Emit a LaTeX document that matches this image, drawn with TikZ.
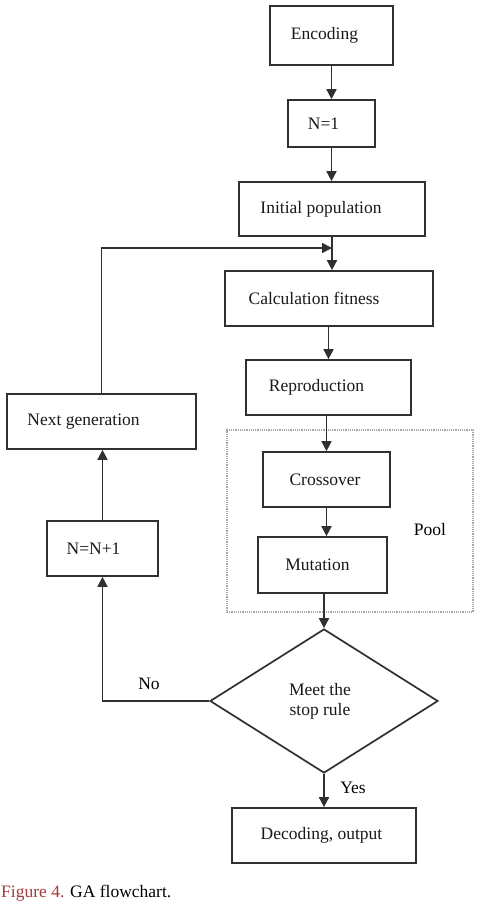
\documentclass[tikz,border=0pt]{standalone}
\usepackage{fontspec}
\setmainfont{Liberation Serif}
\usetikzlibrary{arrows.meta,shapes.geometric}
\definecolor{lc}{HTML}{303030}
\definecolor{capred}{HTML}{A33A3A}
\begin{document}
\begin{tikzpicture}[x=1pt,y=-1pt,
  font=\fontsize{17.5}{20}\selectfont,
  box/.style={draw=lc,line width=1.7pt,rectangle,inner sep=0pt,text=black!90},
  decision/.style={draw=lc,line width=1.7pt,diamond,inner sep=0pt,minimum width=228pt,minimum height=144pt,text=black!90},
  arr/.style={draw=lc,line width=1.7pt,-{Triangle[length=10pt,width=10pt]}},
  poolbox/.style={draw=gray!70,line width=1.2pt,densely dotted,rectangle,inner sep=0pt}
]
\useasboundingbox (0,0) rectangle (481,907);
\fill[white] (0,0) rectangle (481,907);

\node[box,minimum width=123pt,minimum height=59pt] (enc) at (331.5,35.5) {Encoding\kern14pt};
\node[box,minimum width=87pt,minimum height=47pt] (n1) at (331.5,123.5) {N=1\kern16pt};
\node[box,minimum width=186pt,minimum height=54pt] (init) at (332,209) {Initial population\kern22pt};
\node[box,minimum width=208pt,minimum height=55pt] (calc) at (329,298.5) {Calculation fitness\kern30pt};
\node[box,minimum width=165pt,minimum height=55pt] (rep) at (328.5,387.5) {Reproduction\kern24pt};
\node[poolbox,minimum width=246pt,minimum height=182pt] (pool) at (350,521) {};
\node[box,minimum width=127pt,minimum height=55pt] (cross) at (326.5,479.5) {Crossover\kern3pt};
\node[box,minimum width=129pt,minimum height=56pt] (mut) at (322.5,565) {Mutation\kern10pt};
\node (pooltxt) at (430,530) {Pool};
\node[decision] (dec) at (324,701) {\raisebox{-6pt}{\kern-8pt\begin{tabular}{@{}c@{}}Meet the\\stop rule\end{tabular}}};
\node[box,minimum width=184pt,minimum height=55pt] (dout) at (324,835.5) {Decoding, output\kern5pt};
\node[box,minimum width=189pt,minimum height=55pt] (next) at (101.5,421.5) {Next generation\kern36pt};
\node[box,minimum width=111pt,minimum height=55pt] (nn) at (102.5,548.5) {N=N+1\kern18pt};

\coordinate (join) at (332,248);

\draw[arr] (enc.south -| 331.5,0) -- (n1.north);
\draw[arr] (n1.south) -- (n1.south |- init.north);
\draw[arr] (init.south) -- (init.south |- calc.north);
\draw[arr] (next.north) |- (join);
\draw[arr] (rep.north |- calc.south) -- (rep.north);
\draw[arr] (cross.north |- rep.south) -- (cross.north);
\draw[arr] (cross.south) -- (cross.south |- mut.north);
\draw[arr] (dec.north |- mut.south) -- (dec.north);
\draw[arr] (dec.west) -| (nn.south);
\draw[arr] (nn.north) -- (nn.north |- next.south);
\draw[arr] (dec.south) -- (dec.south |- dout.north);

\node (no) at (149,684) {No};
\node (yes) at (353,788) {Yes};

\node[anchor=west,inner sep=0pt,font=\fontsize{17.5}{20}\selectfont] (cap) at (1,893) {\textcolor{capred}{Figure 4.} GA flowchart.};
\end{tikzpicture}
\end{document}
